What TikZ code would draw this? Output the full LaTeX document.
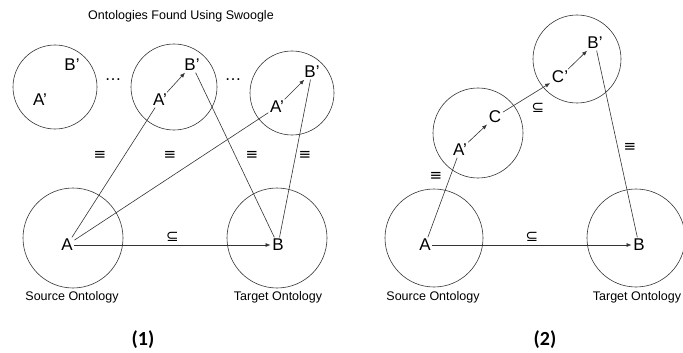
\documentclass[tikz,border=0pt]{standalone}
\usepackage{fontspec}
\setmainfont{Liberation Sans}
\newfontfamily\capfont{Carlito}
\newfontfamily\symfont{DejaVu Sans}
\usetikzlibrary{arrows.meta}

\begin{document}
\begin{tikzpicture}[x = 1pt, y = -1pt, line width = 0.6pt, draw = black!80,
    ring/.style = {circle, draw, inner sep = 0pt, minimum size = #1},
    lbl/.style = {inner sep = 1.5pt, font = \fontsize{17}{17}\selectfont},
    onto/.style = {font = \fontsize{12.5}{14}\selectfont},
    rel/.style = {font = \symfont\fontsize{15}{15}\selectfont},
    hd/.style = {font = \capfont\bfseries\fontsize{20}{22}\selectfont},
    >={Latex[length = 5pt, width = 4pt]}]
\useasboundingbox (0,0) rectangle (683,353);

% (1) ontologies found using swoogle
\draw (55,87) node[ring = 84pt](c1){}
    (174,87) node[ring = 86pt](c2){}
    (292,93) node[ring = 84pt](c3){}
    (73,238) node[ring = 100pt](s1){}
    (277,238) node[ring = 100pt](t1){};
\draw (72,65) node[lbl](b1){B’}
    (40,100) node[lbl](a1){A’}
    (192,65) node[lbl](b2){B’}
    (160,100) node[lbl](a2){A’}
    (312,72) node[lbl](b3){B’}
    (277,107) node[lbl](a3){A’}
    (67,245) node[lbl](A){A}
    (278,245) node[lbl](B){B};
\draw [->] (a2) -- (b2);
\draw [->] (a3) -- (b3);
\draw [->] (A) -- (B) node[midway, above, rel] {⊆};
\draw [-] (A) -- (a2);
\draw [-] (A) -- (a3);
\draw [-] (B) -- (b2);
\draw [-] (B) -- (b3);
\draw (181,16) node[onto](title){Ontologies Found Using Swoogle}
    (113,80) node[lbl](d1){\ldots}
    (233,80) node[lbl](d2){\ldots}
    (100,155) node[rel](e1){≡}
    (170,155) node[rel](e2){≡}
    (252,155) node[rel](e3){≡}
    (305,155) node[rel](e4){≡}
    (72,297) node[onto](src1){Source Ontology}
    (278,297) node[onto](tgt1){Target Ontology}
    (143,340) node[hd](h1){(1)};

% (2) chain through an intermediate concept
\draw (434,238) node[ring = 98pt](s2){}
    (636,238) node[ring = 98pt](t2){}
    (478,133) node[ring = 90pt](c4){}
    (577,59) node[ring = 88pt](c5){};
\draw (425,245) node[lbl](A2){A}
    (639,245) node[lbl](B2){B}
    (460,150) node[lbl](ap){A’}
    (495,117) node[lbl](cc){C}
    (560,77) node[lbl](cp){C’}
    (595,43) node[lbl](bp){B’};
\draw [->] (ap) -- (cc);
\draw [->] (cc) -- (cp);
\draw [->] (cp) -- (bp);
\draw [->] (A2) -- (B2) node[midway, above, rel] {⊆};
\draw [-] (A2) -- (ap);
\draw [-] (bp) -- (B2);
\draw (538,108) node[rel](sub){⊆}
    (436,176) node[rel](e5){≡}
    (630,147) node[rel](e6){≡}
    (433,297) node[onto](src2){Source Ontology}
    (637,297) node[onto](tgt2){Target Ontology}
    (545,340) node[hd](h2){(2)};
\end{tikzpicture}
\end{document}
